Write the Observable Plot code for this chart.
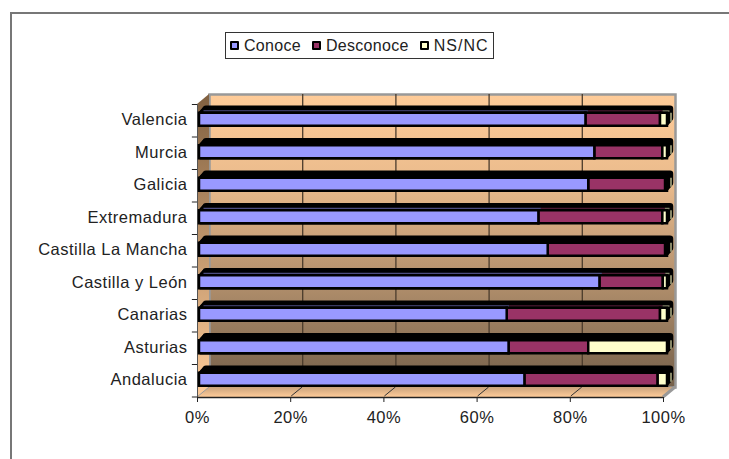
<!DOCTYPE html>
<html><head><meta charset="utf-8">
<script src="https://cdn.jsdelivr.net/npm/d3@7"></script>
<script src="https://cdn.jsdelivr.net/npm/@observablehq/plot@0.6"></script>
<style>
html,body{margin:0;padding:0;background:#fff;overflow:hidden}
#frame{position:absolute;left:10px;top:12px;width:730px;height:460px;border-left:2px solid #777;border-top:2px solid #777}
#legend{position:absolute;left:225px;top:32px;width:263px;height:25px;padding-left:4px;border:1px solid #333;background:#fff;font:16px "Liberation Sans",Arial,sans-serif;color:#222;letter-spacing:.3px;display:flex;align-items:center;white-space:nowrap}
#legend span.k{display:inline-block;width:5px;height:5px;border:2.5px solid #000;margin:0 5px 0 0;border-radius:1px;flex:none}
#legend span.t{margin-right:11px}
#legend span.t:last-child{letter-spacing:1px}
#c{position:absolute;left:0;top:0}
</style></head><body>
<div id="frame"></div>
<div id="c"></div>
<div id="legend"></div>
<script>
const categories = ["Valencia","Murcia","Galicia","Extremadura","Castilla La Mancha","Castilla y León","Canarias","Asturias","Andalucia"];
const conoce    = [82.5,84.4,83.1,72.4,74.4,85.5,65.6,66.0,69.4];
const desconoce = [16.0,14.6,16.5,26.6,25.2,13.6,32.9,17.1,28.6];
const nsnc      = [1.5,1.0,0.4,1.0,0.4,0.9,1.5,16.9,2.0];
const seriesNames = ["Conoce","Desconoce","NS/NC"];
const seriesColors = ["#9999FF","#993366","#FFFFCC"];
const topColors = ["#4C4C80","#4D1A33","#808066"];
const slivered = ["Valencia","Extremadura","Castilla y León","Canarias"];
const xTicks = [0,20,40,60,80,100];

const rows = [];
categories.forEach((c,i)=>{
  [conoce,desconoce,nsnc].forEach((s,j)=>rows.push({category:c,series:seriesNames[j],value:s[i]}));
});

const wallDx = 12, wallDy = -10;
const font = '"Liberation Sans",Arial,sans-serif';

function poly(points, fill){
  return (index, {x}, values, {marginTop, marginBottom, height}) =>
    d3.create("svg:polygon")
      .attr("points", points(x, marginTop, height - marginBottom).map(p=>p.join(",")).join(" "))
      .attr("fill", fill).node();
}
const leftWall = poly((x,t,b)=>[[x(0),t],[x(0)+wallDx,t+wallDy],[x(0)+wallDx,b+wallDy],[x(0),b]],"url(#leftG)");
const floor = poly((x,t,b)=>[[x(0),b],[x(0)+wallDx,b+wallDy],[x(100)+wallDx,b+wallDy],[x(100),b]],"url(#floorG)");
const slants = (index,{x},v,{height,marginBottom})=>{
  const b=height-marginBottom, g=d3.create("svg:g");
  xTicks.slice(1,5).forEach(t=>g.append("line").attr("x1",x(t)+1).attr("y1",b-1).attr("x2",x(t)+wallDx).attr("y2",b+wallDy)
    .attr("stroke","#333").attr("stroke-width",1));
  g.append("line").attr("x1",x(100)).attr("y1",b).attr("x2",x(100)+wallDx).attr("y2",b+wallDy)
    .attr("stroke","#999").attr("stroke-width",3);
  g.append("line").attr("x1",x(0)).attr("y1",b).attr("x2",x(0)+wallDx).attr("y2",b+wallDy)
    .attr("stroke","#999").attr("stroke-width",1);
  return g.node();
};

const depths = [0.2,0.4,0.6,0.8,1];
const bodies = depths.map(d=>Plot.barX(categories,{
  x1:()=>0,x2:()=>100,y:c=>c,fill:"#000",stroke:"#000",strokeWidth:2.5,rx:2,insetLeft:-2,
  dx:4+5*d,dy:-1-6*d}));

const chart = Plot.plot({
  width:729,height:459,
  marginTop:104,marginBottom:62,marginLeft:197,marginRight:66,
  style:{background:"transparent",fontFamily:font,fontSize:"16.5px",color:"#222",overflow:"visible"},
  x:{domain:[0,100],label:null},
  y:{domain:categories,range:[104,396.5],round:false,paddingInner:0.6,paddingOuter:0.3,label:null},
  color:{domain:seriesNames,range:seriesColors},
  marks:[
    Plot.frame({dx:wallDx,dy:wallDy,fill:"url(#wallG)",stroke:"#999",strokeWidth:2.5}),
    leftWall,
    floor,
    slants,
    Plot.ruleX(xTicks.slice(1,5),{x:d=>d,dx:wallDx,dy:wallDy,stroke:"#4a3b2c",strokeWidth:1.3}),
    Plot.ruleY(categories,{y:c=>c,x1:()=>-1.1,x2:()=>0,dy:-16.25,stroke:"#222",strokeWidth:1}),
    Plot.ruleY(["Andalucia"],{y:c=>c,x1:()=>-1.1,x2:()=>0,dy:16.25,stroke:"#222",strokeWidth:1}),
    Plot.ruleX([0],{x:d=>d,stroke:"#555",strokeWidth:1}),
    ...bodies,
    Plot.barX(rows.filter(r=>slivered.includes(r.category)),{x:"value",y:"category",order:null,
      fill:r=>topColors[seriesNames.indexOf(r.series)],insetBottom:11.5,dx:6.5,dy:-3.5}),
    Plot.tickX(categories,{x:()=>100,y:c=>c,dx:7.5,dy:-3,stroke:"#B5B58A",strokeWidth:1.5,insetTop:2,insetBottom:2}),
    Plot.barX(rows,{x:"value",y:"category",fill:"series",order:null,stroke:"#000",strokeWidth:2.5,dx:4,dy:-1}),
    Plot.barX(rows.filter(r=>r.series==="Conoce"),{x:"value",y:"category",fill:"series",stroke:"#000",strokeWidth:2.5,dx:4,dy:-1,insetLeft:-2}),
    Plot.axisX({ticks:xTicks,tickFormat:d=>d+"%",tickSize:5,tickPadding:9,stroke:"#222",fontSize:16.5,label:null,color:"#222"}),
    Plot.ruleY(["Andalucia"],{y:c=>c,x1:()=>0,x2:()=>100,dy:16.75,stroke:"#222",strokeWidth:1.5}),
    Plot.axisY({tickSize:0,tickPadding:10,fontSize:16.5,label:null,color:"#222",dy:-1})
  ]
});

const defs = d3.select(chart).append("defs");
function grad(id,stops){
  const g=defs.append("linearGradient").attr("id",id).attr("x1",0).attr("y1",0).attr("x2",0).attr("y2",1);
  stops.forEach(([o,c])=>g.append("stop").attr("offset",o).attr("stop-color",c));
}
grad("wallG",[[0,"#FFCC99"],[0.3,"#EABB8C"],[1,"#75604A"]]);
grad("leftG",[[0,"#806040"],[1,"#FFCC99"]]);
grad("floorG",[[0,"#C9A27C"],[1,"#FFCC99"]]);
chart.querySelectorAll("text").forEach(t=>t.style.letterSpacing=".5px");

document.getElementById("c").append(chart);

const lg=document.getElementById("legend");
seriesNames.forEach((n,i)=>{
  const k=document.createElement("span");k.className="k";k.style.background=seriesColors[i];
  const t=document.createElement("span");t.className="t";t.textContent=n;
  lg.append(k,t);
});
</script>
</body></html>
